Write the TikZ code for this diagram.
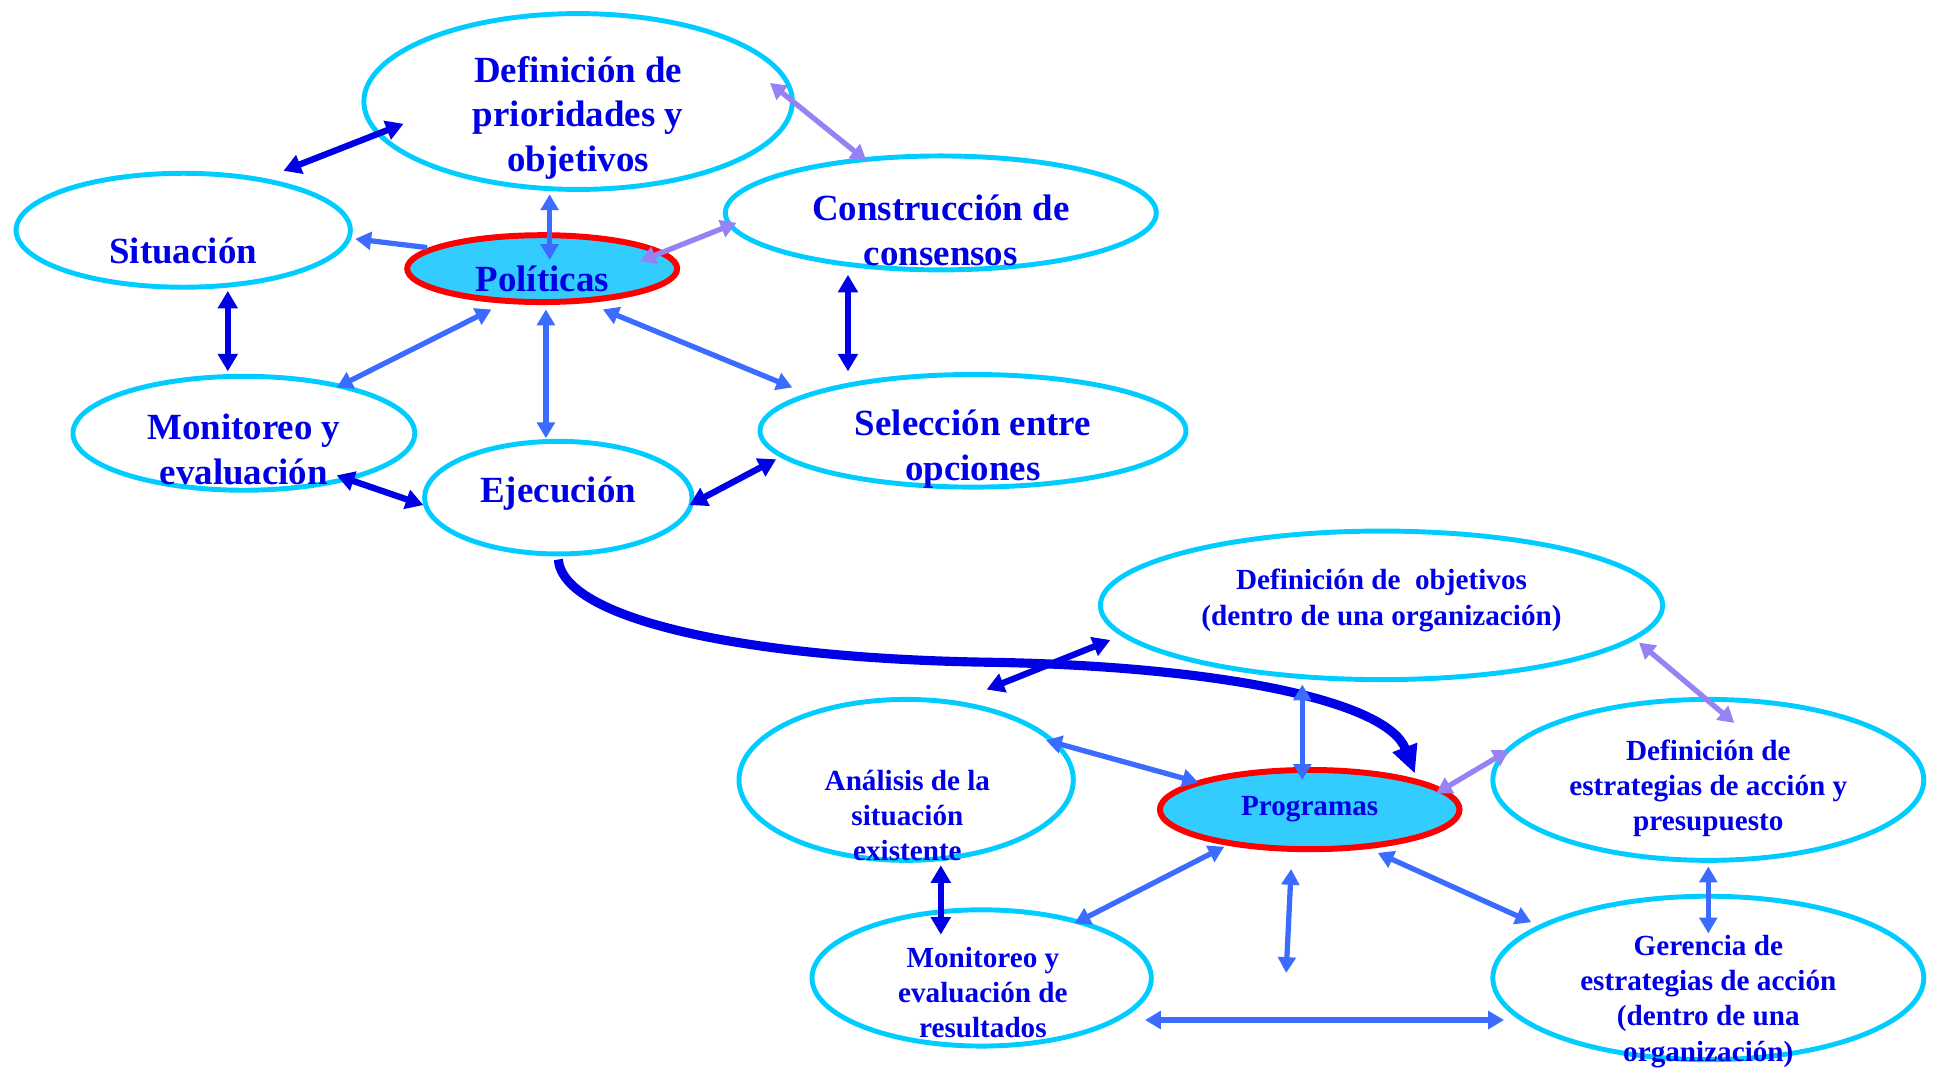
\documentclass[tikz,border=0pt]{standalone}
\usepackage{fontspec}
\setmainfont{Liberation Serif}
\usetikzlibrary{shapes.geometric,arrows.meta,calc}

\definecolor{rand}{RGB}{0,204,255}
\definecolor{fuell}{RGB}{51,204,255}
\definecolor{rot}{RGB}{255,0,0}
\definecolor{dunkelblau}{RGB}{0,0,230}
\definecolor{mittelblau}{RGB}{59,108,255}
\definecolor{lila}{RGB}{150,130,245}

\begin{document}
\begin{tikzpicture}
		[
		x=0.012379cm, y=-0.012379cm, >={Triangle[length=4.5pt,width=5pt]},
		%Voreinstellungen
		blase/.style={ellipse, draw=rand, line width=1.4pt, inner sep=0pt},
		kern/.style={ellipse, draw=rot, fill=fuell, line width=1.7pt, inner sep=0pt},
		gross/.style={font=\bfseries\fontsize{10.5}{12.7}\selectfont, text=dunkelblau, align=center},
		klein/.style={font=\bfseries\fontsize{8.3}{10}\selectfont, text=dunkelblau, align=center},
		dunkel/.style={<->, >={Triangle[length=5pt,width=5.5pt]}, dunkelblau, line width=1.8pt},
		mittel/.style={<->, mittelblau, line width=1.5pt},
		hell/.style={<->, lila, line width=1.5pt}
		]
		
		\useasboundingbox (0,0) rectangle (1568,870);
		
		%Ellipsen oben (Politik)
		\node[blase, minimum width=4.283cm, minimum height=1.758cm] (defp) at (467,82) {};
		\node[blase, minimum width=3.342cm, minimum height=1.139cm] (sit) at (148,186) {};
		\node[kern, minimum width=2.699cm, minimum height=0.668cm] (pol) at (438,217) {};
		\node[blase, minimum width=4.308cm, minimum height=1.139cm] (cons) at (760,172) {};
		\node[blase, minimum width=3.417cm, minimum height=1.139cm] (mon) at (197,350) {};
		\node[blase, minimum width=2.674cm, minimum height=1.126cm] (eje) at (451,402) {};
		\node[blase, minimum width=4.258cm, minimum height=1.126cm] (sel) at (786,348) {};
		
		%Texte oben
		\node[gross] (defp-t) at (467,95) {Definición de\\prioridades y\\objetivos};
		\node[gross] (sit-t) at (148,203) {Situación};
		\node[gross] (pol-t) at (438,225) {Políticas};
		\node[gross] (cons-t) at (760,186) {Construcción de\\consensos};
		\node[gross] (mon-t) at (197,363) {Monitoreo y\\evaluación};
		\node[gross] (eje-t) at (451,399) {Ejecución};
		\node[gross] (sel-t) at (786,363) {Selección entre\\opciones};
		
		%Ellipsen unten (Programme)
		\node[blase, minimum width=5.620cm, minimum height=1.485cm] (defo) at (1116,489) {};
		\node[blase, minimum width=3.342cm, minimum height=1.609cm] (ana) at (732,630) {};
		\node[kern, minimum width=2.996cm, minimum height=0.792cm] (prog) at (1058,654) {};
		\node[blase, minimum width=4.308cm, minimum height=1.609cm] (defe) at (1380,630) {};
		\node[blase, minimum width=3.392cm, minimum height=1.362cm] (monr) at (793,790) {};
		\node[blase, minimum width=4.308cm, minimum height=1.634cm] (ger) at (1380,790) {};
		
		%Texte unten
		\node[klein] (defo-t) at (1116,485) {Definición de~ objetivos\\(dentro de una organización)};
		\node[klein] (ana-t) at (733,659) {Análisis de la\\situación\\existente};
		\node[klein] (prog-t) at (1058,654) {Programas};
		\node[klein] (defe-t) at (1380,637) {Definición de\\estrategias de acción y\\presupuesto};
		\node[klein] (monr-t) at (794,802) {Monitoreo y\\evaluación de\\resultados};
		\node[klein] (ger-t) at (1380,809) {Gerencia de\\estrategias de acción\\(dentro de una\\organización)};
		
		%der grosse Bogen
		\draw[dunkelblau, line width=2.6pt, -{Triangle[length=8pt,width=7pt]}] ($(eje)+(0,50)$) .. controls ($(eje)+(4,98)$) and (600,532) .. (800,535) .. controls (980,538) and (1120,565) .. ($(prog)+(85,-29)$);
		
		%Pfeile oben
		\draw[dunkel] ($(sit)+(81,-48)$) -- ($(defp)+(-141,18)$);
		\draw[->, mittelblau, line width=1.5pt] ($(pol)+(-93,-17)$) -- ($(sit)+(139,7)$);
		\draw[mittel] ($(defp)+(-23,75)$) -- ($(pol)+(6,-7)$);
		\draw[hell] ($(pol)+(79,-6)$) -- ($(cons)+(-165,8)$);
		\draw[hell] ($(defp)+(155,-15)$) -- ($(cons)+(-60,-42)$);
		\draw[dunkel] ($(sit)+(36,49)$) -- ($(mon)+(-13,-50)$);
		\draw[mittel] ($(pol)+(-41,33)$) -- ($(mon)+(75,-37)$);
		\draw[mittel] ($(pol)+(3,33)$) -- ($(eje)+(-10,-48)$);
		\draw[mittel] ($(pol)+(49,33)$) -- ($(sel)+(-146,-35)$);
		\draw[dunkel] ($(cons)+(-75,50)$) -- ($(sel)+(-101,-48)$);
		\draw[dunkel] ($(mon)+(75,34)$) -- ($(eje)+(-109,6)$);
		\draw[dunkel] ($(eje)+(106,6)$) -- ($(sel)+(-159,23)$);
		
		%Pfeile unten
		\draw[dunkel] ($(ana)+(65,-73)$) -- ($(defo)+(-219,28)$);
		\draw[mittel] ($(defo)+(-64,64)$) -- ($(prog)+(-6,-24)$);
		\draw[mittel] ($(ana)+(113,-32)$) -- ($(prog)+(-90,-22)$);
		\draw[hell] ($(prog)+(102,-13)$) -- ($(defe)+(-161,-24)$);
		\draw[hell] ($(defo)+(208,30)$) -- ($(defe)+(21,-46)$);
		\draw[dunkel] ($(ana)+(28,69)$) -- ($(monr)+(-33,-35)$);
		\draw[mittel] ($(prog)+(-69,30)$) -- ($(monr)+(75,-44)$);
		\coordinate (frei1) at (1043,702);
		\coordinate (frei2) at (1039,786);
		\draw[mittel] (frei1) -- (frei2);
		\draw[mittel] ($(prog)+(55,35)$) -- ($(ger)+(-143,-45)$);
		\draw[mittel] ($(defe)+(0,70)$) -- ($(ger)+(0,-36)$);
		\draw[mittel] ($(monr)+(132,34)$) -- ($(ger)+(-165,34)$);
		
	\end{tikzpicture}
\end{document}
